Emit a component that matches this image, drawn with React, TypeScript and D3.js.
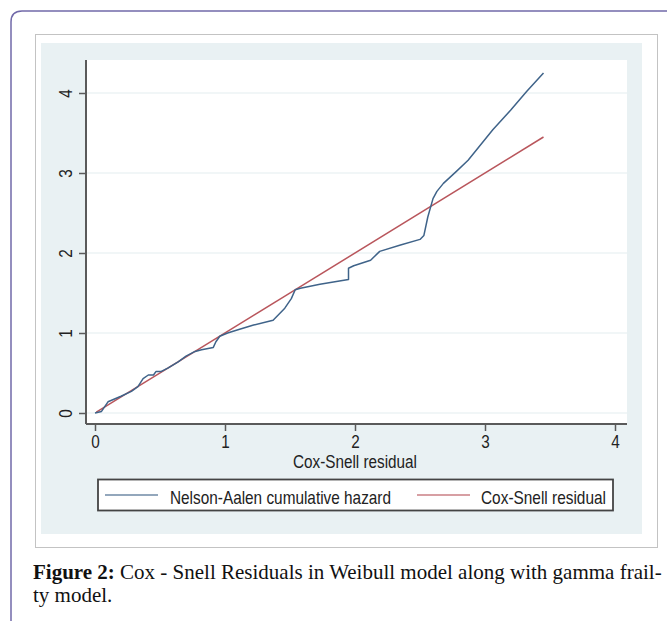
import { useEffect, useRef } from 'react';
import * as d3 from 'd3';

// Nelson-Aalen cumulative hazard
const naX = [0, 0.05, 0.10, 0.20, 0.28, 0.33, 0.37, 0.41, 0.45, 0.47, 0.51, 0.56, 0.64, 0.70, 0.77, 0.82, 0.91, 0.93, 0.96, 1.02, 1.10, 1.22, 1.37, 1.46, 1.51, 1.54, 1.58, 1.73, 1.88, 1.95, 1.95, 1.99, 2.12, 2.19, 2.35, 2.50, 2.53, 2.56, 2.60, 2.63, 2.68, 2.78, 2.87, 3.06, 3.20, 3.32, 3.45];
const naY = [0, 0.02, 0.14, 0.21, 0.27, 0.33, 0.43, 0.475, 0.475, 0.52, 0.52, 0.56, 0.64, 0.71, 0.77, 0.79, 0.82, 0.89, 0.96, 1.00, 1.04, 1.10, 1.16, 1.31, 1.43, 1.54, 1.56, 1.61, 1.65, 1.67, 1.81, 1.84, 1.91, 2.02, 2.10, 2.17, 2.22, 2.45, 2.68, 2.77, 2.87, 3.02, 3.16, 3.54, 3.79, 4.02, 4.25];
// Cox-Snell residual reference line (y = x)
const csX = [0.01, 3.45];
const xTicks = [0, 1, 2, 3, 4];
const yTicks = [0, 1, 2, 3, 4];
const legendLabels = ['Nelson-Aalen cumulative hazard', 'Cox-Snell residual'];
const xTitle = 'Cox-Snell residual';
const captionBold = 'Figure 2:';
const captionRest = ' Cox - Snell Residuals in Weibull model along with gamma frail-';
const captionLine2 = 'ty model.';

const BLUE = '#3f6389';
const RED = '#b9565c';
const FONT = '"Liberation Sans", Arial, sans-serif';
const SERIF = '"Liberation Serif", "Times New Roman", serif';

const App = () => {
    const svgRef = useRef<SVGSVGElement>(null);
    const width = 667;
    const height = 621;
    const plot = { left: 86, top: 60, right: 627, bottom: 424 };

    useEffect(() => {
        const svg = d3.select(svgRef.current);
        svg.selectAll('*').remove();

        const x_scale = d3.scaleLinear().domain([0, 4]).range([95, 615]);
        const y_scale = d3.scaleLinear().domain([0, 4]).range([413, 93]);

        // outer page frame with rounded corner
        svg.append('path')
            .attr('d', 'M11,621 L11,22 Q11,11 22,11 L667,11')
            .attr('fill', 'none').attr('stroke', '#7169a9').attr('stroke-width', 1.5);

        // image frame, graph region, plot region
        svg.append('rect').attr('x', 35.5).attr('y', 34.5).attr('width', 622).attr('height', 513)
            .attr('fill', '#fff').attr('stroke', '#c3c3c3');
        svg.append('rect').attr('x', 41).attr('y', 43).attr('width', 601).attr('height', 491).attr('fill', '#e9f1f3');
        svg.append('rect').attr('x', plot.left).attr('y', plot.top)
            .attr('width', plot.right - plot.left).attr('height', plot.bottom - plot.top).attr('fill', '#fff');

        // gridlines
        svg.append('g').selectAll('line').data(yTicks).join('line')
            .attr('x1', plot.left).attr('x2', plot.right)
            .attr('y1', d => y_scale(d)).attr('y2', d => y_scale(d))
            .attr('stroke', '#edf3f4').attr('stroke-width', 1.5);

        // series
        const naData = naX.map((x, i) => [x, naY[i]] as [number, number]);
        const csData = csX.map(x => [x, x] as [number, number]);
        const line = d3.line<[number, number]>().x(d => x_scale(d[0])).y(d => y_scale(d[1]));
        svg.append('path').datum(csData).attr('d', line)
            .attr('fill', 'none').attr('stroke', RED).attr('stroke-width', 1.5);
        svg.append('path').datum(naData).attr('d', line)
            .attr('fill', 'none').attr('stroke', BLUE).attr('stroke-width', 1.5).attr('stroke-linejoin', 'round');

        // axes
        const fmt = d3.format('d');
        const xAxis = svg.append('g').attr('transform', `translate(0,${plot.bottom})`)
            .call(d3.axisBottom(x_scale).tickValues(xTicks).tickFormat(fmt).tickSize(7).tickSizeOuter(0));
        const yAxis = svg.append('g').attr('transform', `translate(${plot.left},0)`)
            .call(d3.axisLeft(y_scale).tickValues(yTicks).tickFormat(fmt).tickSize(7).tickSizeOuter(0));
        [xAxis, yAxis].forEach(g => {
            g.select('.domain').remove();
            g.selectAll('.tick line').attr('stroke', '#5a5a5a').attr('stroke-width', 1.5);
            g.selectAll('.tick text').attr('fill', '#222')
                .style('font-family', FONT).style('font-size', '18px')
                .attr('textLength', 8.5).attr('lengthAdjust', 'spacingAndGlyphs');
        });
        yAxis.selectAll('.tick text')
            .attr('x', null).attr('dy', null)
            .attr('text-anchor', 'middle')
            .attr('transform', 'translate(-14,0) rotate(-90)');
        xAxis.selectAll('.tick text').attr('dy', null).attr('y', 24);

        svg.append('line').attr('x1', plot.left).attr('x2', plot.left).attr('y1', plot.top).attr('y2', plot.bottom)
            .attr('stroke', '#5a5a5a').attr('stroke-width', 2);
        svg.append('line').attr('x1', plot.left).attr('x2', plot.right).attr('y1', plot.bottom).attr('y2', plot.bottom)
            .attr('stroke', '#5a5a5a').attr('stroke-width', 2);

        svg.append('text').attr('x', 293).attr('y', 468)
            .attr('textLength', 124).attr('lengthAdjust', 'spacingAndGlyphs')
            .style('font-family', FONT).style('font-size', '17.5px').attr('fill', '#222').text(xTitle);

        // legend
        const legend = svg.append('g');
        legend.append('rect').attr('x', 98).attr('y', 479.5).attr('width', 515).attr('height', 31)
            .attr('fill', '#fff').attr('stroke', '#444').attr('stroke-width', 1.8);
        const items = [
            { label: legendLabels[0], color: BLUE, x1: 105, x2: 158, tx: 170, w: 221 },
            { label: legendLabels[1], color: RED, x1: 417, x2: 470, tx: 481, w: 125 },
        ];
        items.forEach(it => {
            legend.append('line').attr('x1', it.x1).attr('x2', it.x2).attr('y1', 495).attr('y2', 495)
                .attr('stroke', it.color).attr('stroke-width', 1.5).attr('opacity', 0.75);
            legend.append('text').attr('x', it.tx).attr('y', 504)
                .attr('textLength', it.w).attr('lengthAdjust', 'spacingAndGlyphs')
                .style('font-family', FONT).style('font-size', '19px').attr('fill', '#222').text(it.label);
        });

        // caption, justified: stretch the word gaps to fill the line
        const cap = svg.append('text').attr('x', 33).attr('y', 579)
            .style('font-family', SERIF).style('font-size', '21px').attr('fill', '#111');
        cap.append('tspan').attr('font-weight', 'bold').text(captionBold);
        cap.append('tspan').text(captionRest);
        const capNode = cap.node() as SVGTextElement;
        const natural = capNode.getComputedTextLength();
        const gaps = (captionBold + captionRest).split(' ').length - 1;
        cap.style('word-spacing', `${Math.max(0, (622 - natural) / gaps)}px`);
        svg.append('text').attr('x', 33).attr('y', 602)
            .style('font-family', SERIF).style('font-size', '21px').attr('fill', '#111')
            .text(captionLine2);
    }, []);

    return (
        <svg ref={svgRef} width={width} height={height}
            style={{ position: 'absolute', left: 0, top: 0, background: '#fff' }} />
    );
};

export default App;
